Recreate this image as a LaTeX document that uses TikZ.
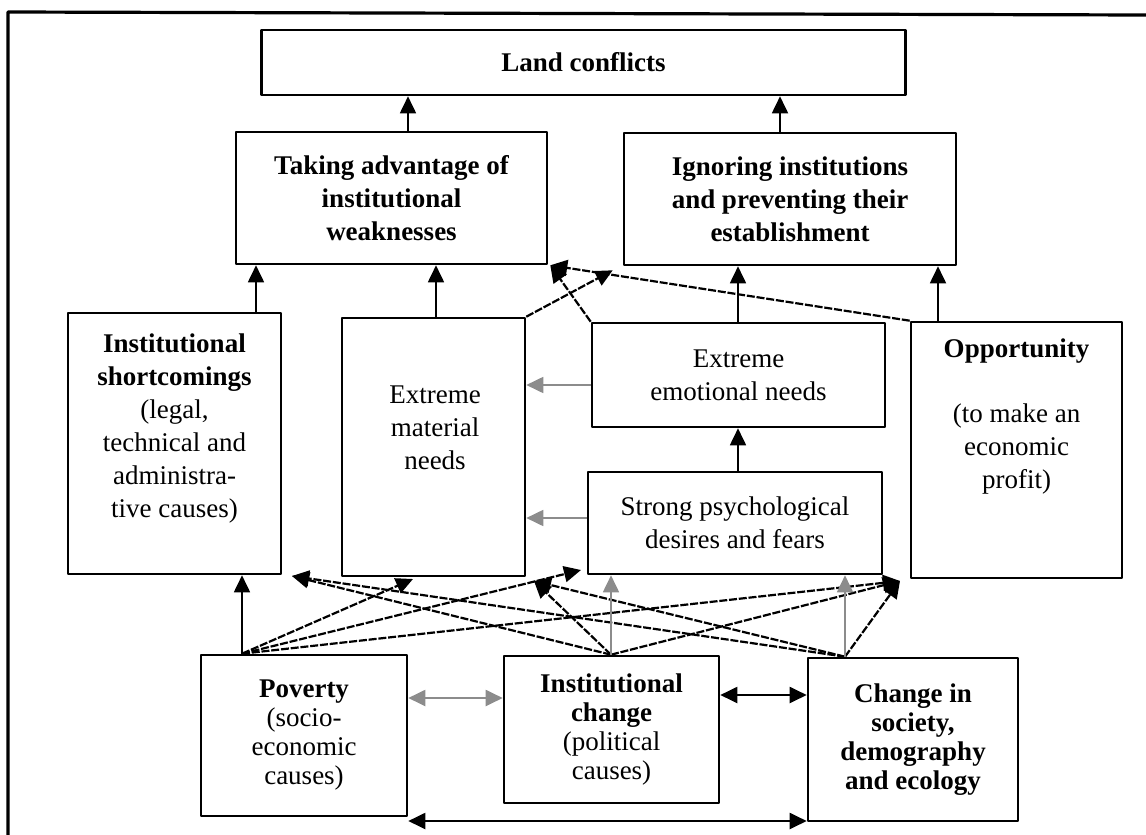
\documentclass[tikz,border=0pt]{standalone}
\usepackage{fontspec}
\setmainfont{Liberation Serif}
\usetikzlibrary{arrows.meta,positioning}

\tikzset{
  txt/.style={align=center, inner sep=0pt, font=\fontsize{13.5}{16.5}\selectfont},
  lowtxt/.style={txt, font=\fontsize{13.5}{14.5}\selectfont},
  box/.style={draw, line width=1.3pt, txt},
  arr/.style={-{Triangle[length=8.5pt,width=8pt]}, line width=0.9pt},
  dia/.style={arr, line width=1.1pt, dash pattern=on 4pt off 0.9pt},
  greyarr/.style={arr, draw=black!45},
  dbl/.style={{Triangle[length=8.5pt,width=8pt]}-{Triangle[length=8.5pt,width=8pt]}, line width=1pt},
}

\begin{document}
\begin{tikzpicture}[x=0.5pt, y=-0.5pt, line join=round]

  \useasboundingbox (0,0) rectangle (1146,835);
  \draw[line width=1.6pt] (8,835) -- (8,12) -- (1146,15);

  % top row
  \node[box, minimum width=322pt, minimum height=32.5pt] (land) at (583.5,62.5) {\bfseries Land conflicts};
  \node[box, minimum width=155.5pt, minimum height=66pt] (take) at (391.5,198) {\bfseries Taking advantage of\\\bfseries institutional\\\bfseries weaknesses};
  \node[box, minimum width=166pt, minimum height=66pt] (ign) at (790,199) {\bfseries Ignoring institutions\\\bfseries and preventing their\\\bfseries establishment};

  % middle row
  \node[box, minimum width=106.5pt, minimum height=130.5pt] (short) at (174.5,443.5) {};
  \node[txt] (short-t) at (174.5,429) {\textbf{Institutional}\\\textbf{shortcomings}\\(legal,\\technical and\\administra-\\tive causes)};
  \node[box, minimum width=91.5pt, minimum height=129pt] (mat) at (433.5,447) {};
  \node[txt] (mat-t) at (435,428) {Extreme\\material\\needs};
  \node[box, minimum width=146.5pt, minimum height=52pt] (emo) at (738.5,375) {Extreme\\emotional needs};
  \node[box, minimum width=147pt, minimum height=51pt] (psy) at (735,523) {Strong psychological\\desires and fears};
  \node[box, minimum width=105.5pt, minimum height=128pt] (opp) at (1016.5,450) {};
  \node[txt] (opp-t) at (1016.5,417) {\textbf{Opportunity}\\[16pt](to make an\\economic\\profit)};

  % causes
  \node[box, lowtxt, minimum width=103pt, minimum height=80.5pt] (pov) at (304,735.5) {\textbf{Poverty}\\(socio-\\economic\\causes)};
  \node[box, lowtxt, minimum width=107.5pt, minimum height=73.5pt] (ichg) at (611.5,729.5) {\textbf{Institutional}\\\textbf{change}\\(political\\causes)};
  \node[box, lowtxt, minimum width=105pt, minimum height=81.5pt] (soc) at (913,739.5) {\bfseries Change in\\\bfseries society,\\\bfseries demography\\\bfseries and ecology};

  % upper arrows
  \draw[arr] (take.north -| 408,0) -- (land.south -| 408,0);
  \draw[arr] (ign.north -| 780,0) -- (land.south -| 780,0);
  \draw[arr] (short.north -| 256,0) -- (take.south -| 256,0);
  \draw[arr] (mat.north -| 436,0) -- (take.south -| 436,0);
  \draw[arr] (emo.north -| 738,0) -- (ign.south -| 738,0);
  \draw[arr] (opp.north -| 938,0) -- (ign.south -| 938,0);
  \draw[dia] (opp.north west) -- ([xshift=1pt]take.south east);
  \draw[dia] (emo.north west) -- ([xshift=1pt]take.south east);
  \draw[dia] (mat.north east) -- ([xshift=-5pt,yshift=-2pt]ign.south west);
  \draw[greyarr] (emo.west |- 0,385) -- (mat.east |- 0,385);
  \draw[greyarr] (psy.west |- 0,518) -- (mat.east |- 0,518);
  \draw[arr] (psy.north -| 738,0) -- (emo.south -| 738,0);

  % lower arrows
  \path
    (pov.north -| 242,0) coordinate (pa)
    (ichg.north -| 611,0) coordinate (ia)
    (soc.north -| 845,0) coordinate (sa)
    (292,576) coordinate (st)
    (413,579) coordinate (mt)
    (534,581) coordinate (mc)
    (581,570) coordinate (pt)
    (900,581) coordinate (ot)
  ;
  \draw[arr] (pa) -- (short.south -| pa);
  \foreach \t in {mt,pt,ot} \draw[dia] (pa) -- (\t);
  \foreach \t in {st,mc,ot} \draw[dia] (ia) -- (\t);
  \foreach \t in {st,mc,ot} \draw[dia] (sa) -- (\t);
  \draw[greyarr] (ia) -- (psy.south -| ia);
  \draw[greyarr] (sa) -- (psy.south -| sa);

  \draw[dbl, draw=black!45] (pov.east |- 0,698) -- (ichg.west |- 0,698);
  \draw[dbl] (ichg.east |- 0,695) -- (soc.west |- 0,695);
  \draw[dbl] (pov.east |- 0,821) -- (soc.west |- 0,821);

\end{tikzpicture}
\end{document}
